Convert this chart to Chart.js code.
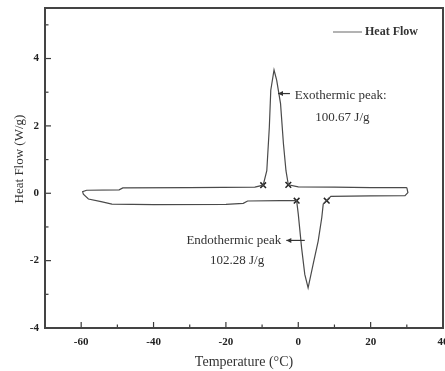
<!DOCTYPE html>
<html lang="en">
<head>
<meta charset="utf-8">
<title>Heat Flow</title>
<script src="https://cdn.jsdelivr.net/npm/chart.js@4.4.0/dist/chart.umd.min.js"></script>
<style>
    html, body {
        margin: 0;
        padding: 0;
        background: #ffffff;
    }
    #dscChart {
        display: block;
    }
</style>
</head>
<body>
<canvas id="dscChart" width="445" height="371"></canvas>
<script>
// DSC loop: cooling branch (top, exothermic peak) then heating branch (bottom, endothermic peak)
const tempC = [
    30.0, 20, 10, 0, -2.75, -3.4, -4.1, -4.9, -5.97, -6.7, -7.6, -8.0, -8.7, -9.7,
    -12, -30, -48.5, -49.5, -58.5, -59.6, -59.4, -58, -54.5, -51.5, -40, -20,
    -15.2, -14, -5, -0.45, 0.0, 0.92, 1.8, 2.72, 4.1, 5.5, 6.5, 6.9, 7.86, 9, 20,
    29.5, 30.3, 30.0,
];
const heatFlow = [
    0.17, 0.17, 0.18, 0.19, 0.25, 0.67, 1.47, 2.66, 3.36, 3.66, 3.06, 1.96, 0.67, 0.24,
    0.18, 0.17, 0.16, 0.1, 0.09, 0.05, -0.03, -0.17, -0.25, -0.32, -0.34, -0.33,
    -0.3, -0.23, -0.22, -0.22, -0.62, -1.62, -2.41, -2.81, -2.11, -1.42, -0.72, -0.32, -0.22, -0.09, -0.08,
    -0.07, 0.02, 0.17,
];

// onset / endset markers of both peaks
const markerTemp = [-9.7, -2.75, -0.45, 7.86];
const markerHeat = [0.24, 0.25, -0.22, -0.22];

const xTicks = [-60, -40, -20, 0, 20, 40];
const xMinorTicks = [-50, -30, -10, 10, 30];
const yTicks = [-4, -2, 0, 2, 4];
const yMinorTicks = [-3, -1, 1, 3, 5];

const serif = "'Liberation Serif', 'Times New Roman', serif";

const peakNotes = [
    { text: "Exothermic peak:", x: -1.0, y: 2.91, align: "left" },
    { text: "100.67 J/g", x: 12.2, y: 2.25, align: "center" },
    { text: "Endothermic peak", x: -17.8, y: -1.39, align: "center" },
    { text: "102.28 J/g", x: -16.9, y: -2.01, align: "center" },
];

const peakArrows = [
    { from: [-2.3, 2.96], to: [-5.6, 2.96] },
    { from: [1.8, -1.4], to: [-3.3, -1.4] },
];

function toPoints(xs, ys) {
    return xs.map(function (x, i) {
        return { x: x, y: ys[i] };
    });
}

function fixedTicks(values) {
    return function (scale) {
        scale.ticks = values.map(function (v) {
            return { value: v };
        });
    };
}

// frame, inward ticks, notes, arrows, legend and y title
const framePlugin = {
    id: "frame",
    afterDatasetsDraw: function (chart) {
        const ctx = chart.ctx;
        const area = chart.chartArea;
        const xs = chart.scales.x;
        const ys = chart.scales.y;

        ctx.save();
        ctx.strokeStyle = "#3a3a3a";
        ctx.lineWidth = 1.2;
        xTicks.concat(xMinorTicks).forEach(function (v) {
            const len = xTicks.includes(v) ? 6 : 3.5;
            const px = xs.getPixelForValue(v);
            ctx.beginPath();
            ctx.moveTo(px, area.bottom);
            ctx.lineTo(px, area.bottom - len);
            ctx.stroke();
        });
        yTicks.concat(yMinorTicks).forEach(function (v) {
            const len = yTicks.includes(v) ? 6 : 3.5;
            const py = ys.getPixelForValue(v);
            ctx.beginPath();
            ctx.moveTo(area.left, py);
            ctx.lineTo(area.left + len, py);
            ctx.stroke();
        });

        ctx.lineWidth = 2;
        ctx.strokeStyle = "#444444";
        ctx.strokeRect(area.left, area.top, area.right - area.left, area.bottom - area.top);

        ctx.fillStyle = "#333333";
        ctx.font = "13px " + serif;
        ctx.textBaseline = "middle";
        peakNotes.forEach(function (n) {
            ctx.textAlign = n.align;
            ctx.fillText(n.text, xs.getPixelForValue(n.x), ys.getPixelForValue(n.y));
        });

        ctx.strokeStyle = "#333333";
        ctx.lineWidth = 1.2;
        peakArrows.forEach(function (a) {
            const x0 = xs.getPixelForValue(a.from[0]);
            const y0 = ys.getPixelForValue(a.from[1]);
            const x1 = xs.getPixelForValue(a.to[0]);
            const y1 = ys.getPixelForValue(a.to[1]);
            ctx.beginPath();
            ctx.moveTo(x0, y0);
            ctx.lineTo(x1, y1);
            ctx.stroke();
            ctx.beginPath();
            ctx.moveTo(x1, y1);
            ctx.lineTo(x1 + 5, y1 - 2.5);
            ctx.lineTo(x1 + 5, y1 + 2.5);
            ctx.closePath();
            ctx.fill();
        });

        // legend, top right inside the frame
        const ly = area.top + 24;
        ctx.strokeStyle = "#9a9a9a";
        ctx.lineWidth = 1.5;
        ctx.beginPath();
        ctx.moveTo(area.right - 110, ly);
        ctx.lineTo(area.right - 81, ly);
        ctx.stroke();
        ctx.font = "bold 12px " + serif;
        ctx.textAlign = "left";
        ctx.fillStyle = "#333333";
        ctx.fillText("Heat Flow", area.right - 78, ly);

        ctx.translate(20, 159);
        ctx.rotate(-Math.PI / 2);
        ctx.textAlign = "center";
        ctx.font = "13px " + serif;
        ctx.fillText("Heat Flow (W/g)", 0, 0);
        ctx.restore();
    },
};

function initializeChart() {
    const canvas = document.getElementById("dscChart");
    new Chart(canvas.getContext("2d"), {
        type: "line",
        data: {
            datasets: [
                {
                    label: "Heat Flow",
                    data: toPoints(tempC, heatFlow),
                    borderColor: "#4a4a4a",
                    borderWidth: 1.2,
                    pointRadius: 0,
                    tension: 0,
                    fill: false,
                },
                {
                    label: "Onset",
                    data: toPoints(markerTemp, markerHeat),
                    showLine: false,
                    pointStyle: "crossRot",
                    pointRadius: 4,
                    borderColor: "#222222",
                    borderWidth: 1.5,
                },
            ],
        },
        options: {
            responsive: false,
            animation: false,
            devicePixelRatio: 1,
            layout: {
                autoPadding: false,
                padding: { top: 8, right: 2, left: 0, bottom: 0 },
            },
            plugins: {
                legend: { display: false },
                tooltip: { enabled: false },
            },
            scales: {
                x: {
                    type: "linear",
                    min: -70,
                    max: 40,
                    afterBuildTicks: fixedTicks(xTicks),
                    afterFit: function (scale) {
                        scale.height = 43;
                        scale.paddingLeft = 0;
                        scale.paddingRight = 0;
                    },
                    grid: { display: false, drawTicks: false },
                    border: { display: false },
                    ticks: {
                        padding: 8,
                        color: "#222222",
                        font: { family: serif, size: 11, weight: "bold" },
                        maxRotation: 0,
                        autoSkip: false,
                    },
                    title: {
                        display: true,
                        text: "Temperature (°C)",
                        color: "#333333",
                        font: { family: serif, size: 14 },
                        padding: { top: 0, bottom: 0 },
                    },
                },
                y: {
                    type: "linear",
                    min: -4,
                    max: 5.5,
                    afterBuildTicks: fixedTicks(yTicks),
                    afterFit: function (scale) {
                        scale.width = 45;
                        scale.paddingTop = 0;
                        scale.paddingBottom = 0;
                    },
                    grid: { display: false, drawTicks: false },
                    border: { display: false },
                    ticks: {
                        padding: 6,
                        color: "#222222",
                        font: { family: serif, size: 11, weight: "bold" },
                        autoSkip: false,
                    },
                },
            },
        },
        plugins: [framePlugin],
    });
}

initializeChart();
</script>
</body>
</html>
